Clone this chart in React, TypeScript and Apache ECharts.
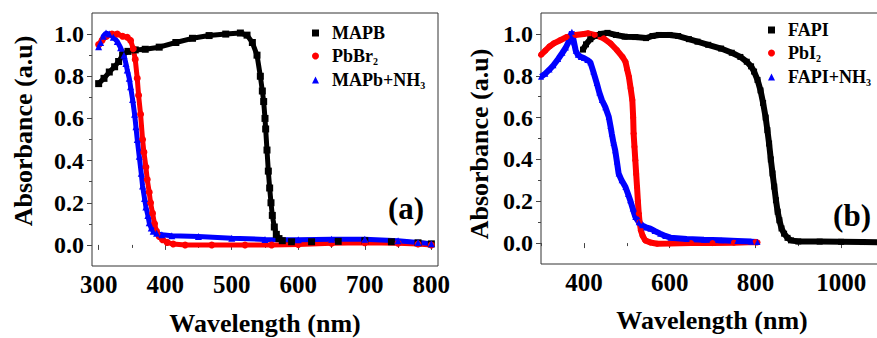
import React, { useEffect, useRef } from "react";
import * as echarts from "echarts";

// ---- Panel (a) data: wavelength (nm), absorbance (a.u) ----
const mapbWl = [300, 308, 316, 324, 330, 336, 344, 355, 370, 391, 416, 441, 466, 491, 513, 523, 531, 538, 543, 546, 548, 550, 551, 553, 555, 557, 559, 561, 564, 567, 571, 576, 590, 620, 660, 700, 740, 780, 800];
const mapbAbs = [0.765, 0.79, 0.82, 0.845, 0.87, 0.9, 0.918, 0.925, 0.928, 0.938, 0.96, 0.98, 0.993, 1.0, 1.005, 0.995, 0.96, 0.9, 0.8, 0.73, 0.68, 0.6, 0.55, 0.45, 0.35, 0.27, 0.2, 0.14, 0.085, 0.05, 0.03, 0.02, 0.015, 0.015, 0.017, 0.02, 0.015, 0.01, 0.005];

const pbbr2Wl = [300, 305, 312, 320, 328, 336, 343, 348, 352, 355, 358, 360, 363, 366, 368, 371, 373, 376, 378, 381, 384, 387, 391, 396, 403, 412, 430, 470, 520, 560, 600, 650, 700, 750, 780, 800];
const pbbr2Abs = [0.95, 0.97, 0.99, 1.0, 1.0, 0.99, 0.985, 0.97, 0.93, 0.88, 0.79, 0.71, 0.62, 0.5, 0.44, 0.37, 0.31, 0.25, 0.2, 0.15, 0.1, 0.065, 0.04, 0.025, 0.012, 0.004, 0.0, 0.0, 0.0, 0.0, 0.002, 0.008, 0.01, 0.008, 0.004, 0.0];

const mapbNh3Wl = [300, 303, 307, 311, 316, 322, 328, 333, 338, 341, 343, 346, 348, 351, 354, 356, 358, 361, 364, 366, 369, 371, 374, 376, 379, 382, 387, 395, 410, 450, 500, 550, 600, 650, 700, 750, 780, 800];
const mapbNh3Abs = [0.94, 0.96, 0.99, 1.005, 1.0, 0.985, 0.965, 0.935, 0.9, 0.86, 0.83, 0.79, 0.75, 0.69, 0.62, 0.56, 0.5, 0.42, 0.34, 0.28, 0.22, 0.18, 0.14, 0.105, 0.08, 0.065, 0.055, 0.048, 0.044, 0.04, 0.032, 0.026, 0.025, 0.027, 0.027, 0.02, 0.012, 0.005];

// ---- Panel (b) data ----
const fapiWl = [398, 405, 415, 425, 440, 455, 475, 495, 520, 545, 560, 575, 600, 620, 645, 665, 690, 720, 745, 765, 780, 790, 797, 805, 812, 818, 824, 828, 832, 836, 840, 844, 848, 852, 856, 861, 867, 875, 883, 900, 950, 1000, 1050, 1100];
const fapiAbs = [0.925, 0.95, 0.975, 0.99, 1.0, 1.005, 0.995, 0.987, 0.985, 0.98, 0.99, 0.995, 0.995, 0.99, 0.975, 0.963, 0.948, 0.93, 0.91, 0.89, 0.867, 0.845, 0.82, 0.78, 0.73, 0.67, 0.6, 0.54, 0.476, 0.4, 0.333, 0.27, 0.205, 0.15, 0.109, 0.07, 0.045, 0.025, 0.013, 0.008, 0.007, 0.006, 0.005, 0.004];

const pbi2Wl = [300, 310, 320, 330, 345, 360, 380, 400, 410, 425, 446, 462, 477, 490, 497, 501, 505, 509, 513, 515, 516, 518, 520, 522, 524, 526, 528, 530, 533, 537, 543, 555, 571, 600, 650, 700, 750, 800, 805];
const pbi2Abs = [0.9, 0.92, 0.94, 0.955, 0.97, 0.985, 0.995, 1.0, 1.003, 0.995, 0.979, 0.955, 0.923, 0.89, 0.867, 0.83, 0.795, 0.74, 0.684, 0.6, 0.524, 0.46, 0.396, 0.33, 0.268, 0.2, 0.141, 0.1, 0.061, 0.035, 0.013, 0.003, -0.003, -0.002, 0.0, 0.0, 0.002, 0.005, 0.003];

const fapiNh3Wl = [300, 310, 320, 329, 340, 350, 358, 365, 372, 377, 381, 386, 393, 400, 408, 415, 422, 430, 436, 442, 450, 458, 462, 465, 469, 473, 477, 481, 488, 497, 503, 508, 514, 520, 528, 536, 545, 555, 565, 578, 590, 602, 640, 680, 720, 758, 790, 805];
const fapiNh3Abs = [0.795, 0.81, 0.83, 0.85, 0.88, 0.91, 0.935, 0.965, 1.01, 0.96, 0.92, 0.9, 0.89, 0.885, 0.875, 0.865, 0.82, 0.765, 0.72, 0.684, 0.65, 0.604, 0.56, 0.524, 0.48, 0.444, 0.39, 0.333, 0.3, 0.268, 0.235, 0.205, 0.165, 0.125, 0.1, 0.085, 0.075, 0.069, 0.058, 0.045, 0.034, 0.026, 0.02, 0.016, 0.013, 0.01, 0.007, 0.005];

// ---- Tick values ----
const yLabelTicks = [0, 0.2, 0.4, 0.6, 0.8, 1.0];
const yMinorTicks = [0.1, 0.3, 0.5, 0.7, 0.9];
const xTicksA = [300, 400, 500, 600, 700, 800];
const xMinorA = [350, 450, 550, 650, 750];
const xTicksB = [400, 600, 800, 1000];
const xMinorB = [300, 500, 700, 900, 1100];

const names = {
  a: ["MAPB", "PbBr2", "MAPb+NH3"],
  b: ["FAPI", "PbI2", "FAPI+NH3"],
};
const colors = ["#000000", "#ff0000", "#0000ff"];
const symbols = ["rect", "circle", "triangle"];

const FONT = "Liberation Serif";

const zip = (xs: number[], ys: number[]) => xs.map((x, i) => [x, ys[i]]);

export default function App() {
  const ref = useRef<HTMLDivElement>(null);

  useEffect(() => {
    if (!ref.current) return;
    const chart = echarts.init(ref.current, undefined, { renderer: "svg" });

    const grids = [
      { left: 92, top: 13, width: 346, height: 253 },
      { left: 541, top: 13, width: 343, height: 251 },
    ];

    const axisText = { fontFamily: FONT, fontWeight: "bold", color: "#000" };

    const mkX = (gi: number, min: number, max: number, ticks: number[], minor: number[]) => [
      {
        type: "value",
        gridIndex: gi,
        min,
        max,
        axisLine: { show: false },
        splitLine: { show: false },
        axisTick: { show: true, customValues: ticks, length: 5, lineStyle: { color: "#444" } },
        axisLabel: { ...axisText, fontSize: 25, margin: 6, customValues: ticks, formatter: (v: number) => String(v) },
      },
      {
        type: "value",
        gridIndex: gi,
        min,
        max,
        position: "bottom",
        axisLine: { show: false },
        splitLine: { show: false },
        axisTick: { show: true, customValues: minor, length: 3, lineStyle: { color: "#444" } },
        axisLabel: { show: false },
      },
    ];
    const mkY = (gi: number) => [
      {
        type: "value",
        gridIndex: gi,
        min: -0.1,
        max: 1.1,
        axisLine: { show: false },
        splitLine: { show: false },
        axisTick: { show: true, customValues: yLabelTicks, length: 5, lineStyle: { color: "#444" } },
        axisLabel: {
          ...axisText,
          fontSize: 24,
          margin: 8,
          customValues: yLabelTicks,
          formatter: (v: number) => v.toFixed(1),
        },
      },
      {
        type: "value",
        gridIndex: gi,
        min: -0.1,
        max: 1.1,
        position: "left",
        axisLine: { show: false },
        splitLine: { show: false },
        axisTick: { show: true, customValues: yMinorTicks, length: 3, lineStyle: { color: "#444" } },
        axisLabel: { show: false },
      },
    ];

    const dataA = [zip(mapbWl, mapbAbs), zip(pbbr2Wl, pbbr2Abs), zip(mapbNh3Wl, mapbNh3Abs)];
    const dataB = [zip(fapiWl, fapiAbs), zip(pbi2Wl, pbi2Abs), zip(fapiNh3Wl, fapiNh3Abs)];

    const series: any[] = [];
    dataA.forEach((d, i) =>
      series.push({
        type: "line",
        name: names.a[i],
        xAxisIndex: 0,
        yAxisIndex: 0,
        data: d,
        symbol: symbols[i],
        symbolSize: 7,
        showSymbol: true,
        itemStyle: { color: colors[i] },
        lineStyle: { color: colors[i], width: 5 },
      })
    );
    dataB.forEach((d, i) =>
      series.push({
        type: "line",
        name: names.b[i],
        xAxisIndex: 2,
        yAxisIndex: 2,
        data: d,
        symbol: symbols[i],
        symbolSize: 6,
        showSymbol: true,
        itemStyle: { color: colors[i] },
        lineStyle: { color: colors[i], width: 6 },
      })
    );

    const subFmt = (name: string) => {
      const m = name.match(/^(.*?)(\d)$/);
      return m ? `{n|${m[1]}}{s|${m[2]}}` : `{n|${name}}`;
    };
    const legendText = {
      fontFamily: FONT,
      fontWeight: "bold",
      fontSize: 18,
      color: "#000",
      rich: {
        n: { fontFamily: FONT, fontWeight: "bold", fontSize: 18, lineHeight: 20, color: "#000", padding: [0, 0, 0, 8] },
        s: { fontFamily: FONT, fontWeight: "bold", fontSize: 10, lineHeight: 10, verticalAlign: "bottom", color: "#000" },
      },
    };
    const mkLegend = (list: string[], left: number, top: number) => ({
      orient: "vertical",
      left,
      top,
      padding: 0,
      itemGap: 5,
      itemWidth: 7,
      itemHeight: 7,
      selectedMode: false,
      data: list.map((n, i) => ({ name: n, icon: symbols[i] })),
      formatter: subFmt,
      textStyle: legendText,
    });

    const titleStyle = {
      fontFamily: FONT,
      fontWeight: "bold",
      fontSize: 26,
      fill: "#000",
      textAlign: "center",
      textVerticalAlign: "middle",
    };

    chart.setOption({
      animation: false,
      backgroundColor: "#fff",
      grid: grids.map((g) => ({ ...g, show: true, borderColor: "#333", borderWidth: 1, backgroundColor: "transparent" })),
      xAxis: [...mkX(0, 290, 810, xTicksA, xMinorA), ...mkX(1, 300, 1100, xTicksB, xMinorB)],
      yAxis: [...mkY(0), ...mkY(1)],
      legend: [mkLegend(names.a, 312, 24), mkLegend(names.b, 768, 21)],
      series,
      graphic: [
        { type: "text", x: 265, y: 323, style: { ...titleStyle, text: "Wavelength (nm)" } },
        { type: "text", x: 712, y: 320, style: { ...titleStyle, text: "Wavelength (nm)" } },
        { type: "text", x: 23, y: 131, rotation: Math.PI / 2, style: { ...titleStyle, text: "Absorbance (a.u)" } },
        { type: "text", x: 479, y: 144, rotation: Math.PI / 2, style: { ...titleStyle, text: "Absorbance (a.u)" } },
        { type: "text", x: 406, y: 208, style: { ...titleStyle, fontSize: 31, text: "(a)" } },
        { type: "text", x: 852, y: 215, style: { ...titleStyle, fontSize: 31, text: "(b)" } },
      ],
    });

    return () => chart.dispose();
  }, []);

  return (
    <div
      style={{
        position: "fixed",
        left: 0,
        top: 0,
        width: 877,
        height: 338,
        overflow: "hidden",
        background: "#fff",
      }}
    >
      <div ref={ref} style={{ width: 900, height: 338 }} />
    </div>
  );
}
